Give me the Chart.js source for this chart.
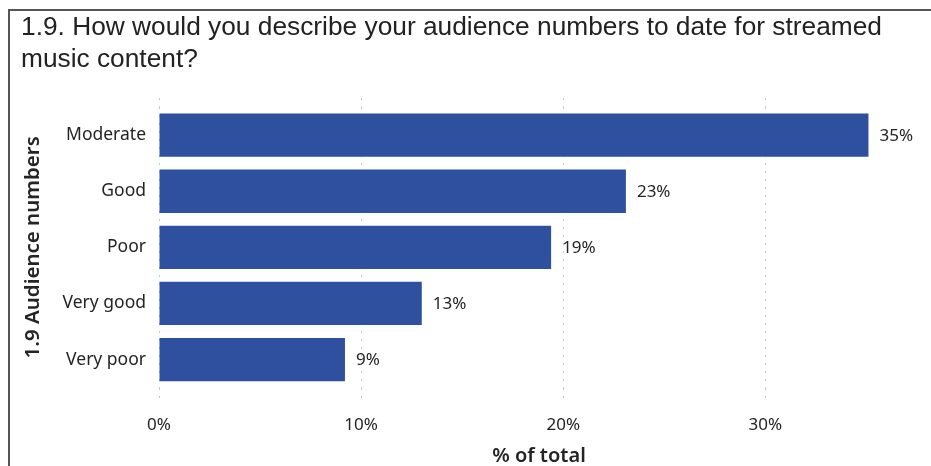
<!DOCTYPE html>
<html>
<head>
<meta charset="utf-8">
<script src="https://cdn.jsdelivr.net/npm/chart.js@4.4.1/dist/chart.umd.min.js"></script>
<style>
  html, body { margin: 0; padding: 0; background: #fff; }
  #wrap { position: relative; width: 931px; height: 466px; }
  #ramka { position: absolute; left: 8px; top: 9px; right: 0; bottom: 0;
           border-top: 2px solid #555; border-left: 2px solid #555; }
  canvas { position: absolute; left: 0; top: 0; }
</style>
</head>
<body>
<div id="wrap">
  <div id="ramka"></div>
  <canvas id="wykres" width="931" height="466"></canvas>
</div>
<script>
// Dane wykresu
const kategorie = ['Moderate', 'Good', 'Poor', 'Very good', 'Very poor'];
const udzialy = [35.1, 23.1, 19.4, 13.0, 9.2];
const tytul = ['1.9. How would you describe your audience numbers to date for streamed', 'music content?'];
const tytulOsiY = '1.9 Audience numbers';
const tytulOsiX = '% of total';

const osMax = 37.6;
const kolorSlupka = '#2E509F';
const kolorTekstu = '#252423';
const czcionka = '"Noto Sans", sans-serif';

// wspolny wyglad kropkowanej siatki
const siatka = {
  color: '#C4C4C4',
  lineWidth: 1,
  tickBorderDash: [2, 6],
  tickColor: '#C4C4C4'
};
const ramkaOsi = { display: false, dash: [2, 6] };

// Etykiety wartosci za slupkami
const etykiety = {
  id: 'etykiety',
  afterDatasetsDraw(chart) {
    const ctx = chart.ctx;
    const meta = chart.getDatasetMeta(0);
    ctx.save();
    ctx.font = '17px ' + czcionka;
    ctx.fillStyle = kolorTekstu;
    ctx.textBaseline = 'middle';
    ctx.textAlign = 'left';
    meta.data.forEach((bar, i) => {
      ctx.fillText(Math.round(udzialy[i]) + '%', bar.x + 11, bar.y + 1);
    });
    ctx.restore();
  }
};

const ctx = document.getElementById('wykres').getContext('2d');
new Chart(ctx, {
  type: 'bar',
  data: {
    labels: kategorie,
    datasets: [{
      data: udzialy,
      backgroundColor: kolorSlupka,
      categoryPercentage: 0.772,
      barPercentage: 1,
      xAxisID: 'x'
    }]
  },
  options: {
    indexAxis: 'y',
    responsive: false,
    animation: false,
    layout: { padding: { left: 21, right: 12, top: 12, bottom: 0 } },
    plugins: {
      legend: { display: false },
      tooltip: { enabled: false },
      title: {
        display: true,
        text: tytul,
        align: 'start',
        color: '#222',
        font: { family: '"Liberation Sans", Arial, sans-serif', size: 26.3, weight: 'normal', lineHeight: 1.2 },
        padding: { top: 0, bottom: 23 }
      }
    },
    scales: {
      x: {
        position: 'bottom',
        min: 0,
        max: osMax,
        border: ramkaOsi,
        grid: Object.assign({ drawTicks: true, tickLength: 16 }, siatka),
        ticks: {
          stepSize: 10,
          includeBounds: false,
          padding: 11,
          color: kolorTekstu,
          font: { family: czcionka, size: 17 },
          callback: v => v + '%'
        },
        title: {
          display: true,
          text: tytulOsiX,
          color: kolorTekstu,
          font: { family: czcionka, size: 20, weight: '600', lineHeight: 1.0 },
          padding: { top: 0, bottom: 0 }
        }
      },
      xGora: {
        position: 'top',
        min: 0,
        max: osMax,
        border: ramkaOsi,
        grid: Object.assign({ drawTicks: true, tickLength: 9, drawOnChartArea: false }, siatka),
        ticks: { display: false, stepSize: 10, includeBounds: false }
      },
      y: {
        border: { display: false },
        grid: { display: false, drawTicks: false },
        afterFit: s => { s.width = 138; },
        ticks: {
          padding: 13,
          color: kolorTekstu,
          font: { family: czcionka, size: 17.5 }
        },
        title: {
          display: true,
          text: tytulOsiY,
          color: kolorTekstu,
          font: { family: czcionka, size: 20.5, weight: '600' },
          padding: { top: 0, bottom: 0 }
        }
      }
    }
  },
  plugins: [etykiety]
});
</script>
</body>
</html>
